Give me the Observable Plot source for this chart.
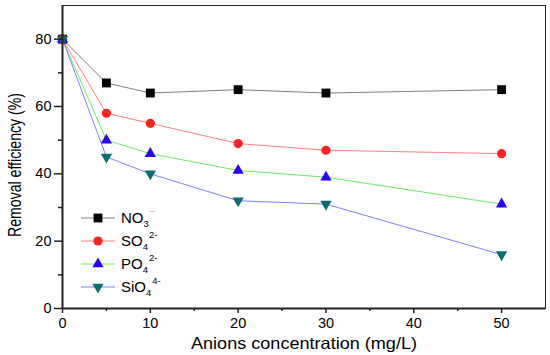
<!DOCTYPE html>
<html><head><meta charset="utf-8">
<script src="https://cdn.jsdelivr.net/npm/d3@7"></script>
<script src="https://cdn.jsdelivr.net/npm/@observablehq/plot@0.6"></script>
<style>body{margin:0;background:#fff} svg{font-family:"Liberation Sans",Arial,sans-serif}</style>
</head><body><div id="chart"></div>
<script>
const concentrations = [0, 5, 10, 20, 30, 50];
const no3 = [80, 67, 64, 65, 64, 65];
const so4 = [80, 58, 55, 49, 47, 46];
const po4 = [80, 50, 46, 41, 39, 31];
const sio4 = [80, 45, 40, 32, 31, 16];
const seriesKeys = ["NO3", "SO4", "PO4", "SiO4"];
const seriesValues = [no3, so4, po4, sio4];
const legendBase = ["NO", "SO", "PO", "SiO"];
const legendSub = ["3", "4", "4", "4"];
const legendSup = ["\u2212", "2-", "2-", "4-"];
const lineColors = ["#808080", "#ff8080", "#66f066", "#8080ff"];
const markerColors = ["#000000", "#ff2020", "#2a00ff", "#0a6e6e"];
const symbols = ["square", "circle", "triangle", "triangle"];
const rotations = [0, 0, 0, 180];
const radii = [5, 4.6, 4.2, 4.2];
const xTicks = [0, 10, 20, 30, 40, 50];
const xMinor = [5, 15, 25, 35, 45];
const yTicks = [0, 20, 40, 60, 80];
const yMinor = [10, 30, 50, 70];

const rows = seriesKeys.flatMap((k, i) => concentrations.map((c, j) => ({series: k, x: c, y: seriesValues[i][j]})));

const marks = [
  Plot.frame({stroke: "#222", strokeWidth: 1}),
];
seriesKeys.forEach((k, i) => {
  marks.push(Plot.line(rows.filter(d => d.series === k), {x: "x", y: "y", stroke: lineColors[i], strokeWidth: 1}));
});
seriesKeys.forEach((k, i) => {
  marks.push(Plot.dot(rows.filter(d => d.series === k), {x: "x", y: "y", symbol: () => symbols[i], fill: markerColors[i], stroke: "none", r: radii[i], rotate: rotations[i]}));
});
marks.push(
  Plot.axisX({ticks: xTicks, tickSize: 5, tickPadding: 4, fontSize: 14.5, label: null, stroke: "#222", strokeWidth: 1.5, fill: "#000"}),
  Plot.axisX({ticks: xMinor, tickSize: 3, text: null, label: null, stroke: "#222", strokeWidth: 1.5}),
  Plot.axisY({ticks: yTicks, tickSize: 8, tickPadding: 3, fontSize: 14.5, label: null, stroke: "#222", strokeWidth: 1.5, fill: "#000"}),
  Plot.axisY({ticks: yMinor, tickSize: 4, text: null, label: null, stroke: "#222", strokeWidth: 1.5}),
  Plot.ruleY([0], {stroke: "#222", strokeWidth: 2}),
  Plot.ruleX([0], {stroke: "#222", strokeWidth: 2})
);

const chart = Plot.plot({
  width: 550, height: 355,
  marginLeft: 62, marginRight: 5, marginTop: 5, marginBottom: 47,
  x: {domain: [0, 55]},
  y: {domain: [0, 90]},
  style: {background: "#fff", fontFamily: "Liberation Sans, Arial, sans-serif"},
  marks
});
document.getElementById("chart").appendChild(chart);

const svg = d3.select(chart);
// axis titles
svg.append("text").attr("x", 304).attr("y", 349).attr("text-anchor", "middle")
  .attr("font-size", 16.5).attr("fill", "#000").attr("textLength", 226).attr("lengthAdjust", "spacingAndGlyphs")
  .text("Anions concentration (mg/L)");
svg.append("text").attr("transform", "translate(21,165) rotate(-90)").attr("text-anchor", "middle")
  .attr("font-size", 18).attr("fill", "#000").attr("textLength", 144).attr("lengthAdjust", "spacingAndGlyphs")
  .text("Removal efficiency (%)");

// legend
const legendY = [218, 241, 264, 287];
const symMap = {square: d3.symbolSquare, circle: d3.symbolCircle, triangle: d3.symbolTriangle};
seriesKeys.forEach((k, i) => {
  const g = svg.append("g").attr("transform", `translate(0,${legendY[i]})`);
  g.append("line").attr("x1", 81).attr("x2", 115).attr("y1", 0).attr("y2", 0).attr("stroke", lineColors[i]).attr("stroke-width", 1);
  g.append("path").attr("d", d3.symbol(symMap[symbols[i]], Math.PI * radii[i] * radii[i])())
    .attr("transform", `translate(98,0) rotate(${rotations[i]})`).attr("fill", markerColors[i]);
  const t = g.append("text").attr("x", 121).attr("y", 5).attr("text-anchor", "start").attr("font-size", 15).attr("fill", "#000");
  t.append("tspan").text(legendBase[i]);
  t.append("tspan").attr("font-size", 9.5).attr("dy", 4).text(legendSub[i]);
  t.append("tspan").attr("font-size", 9.5).attr("dy", -12).attr("dx", 1)
    .attr("fill", i === 0 ? "#aaa" : "#000").text(legendSup[i]);
});
</script></body></html>
